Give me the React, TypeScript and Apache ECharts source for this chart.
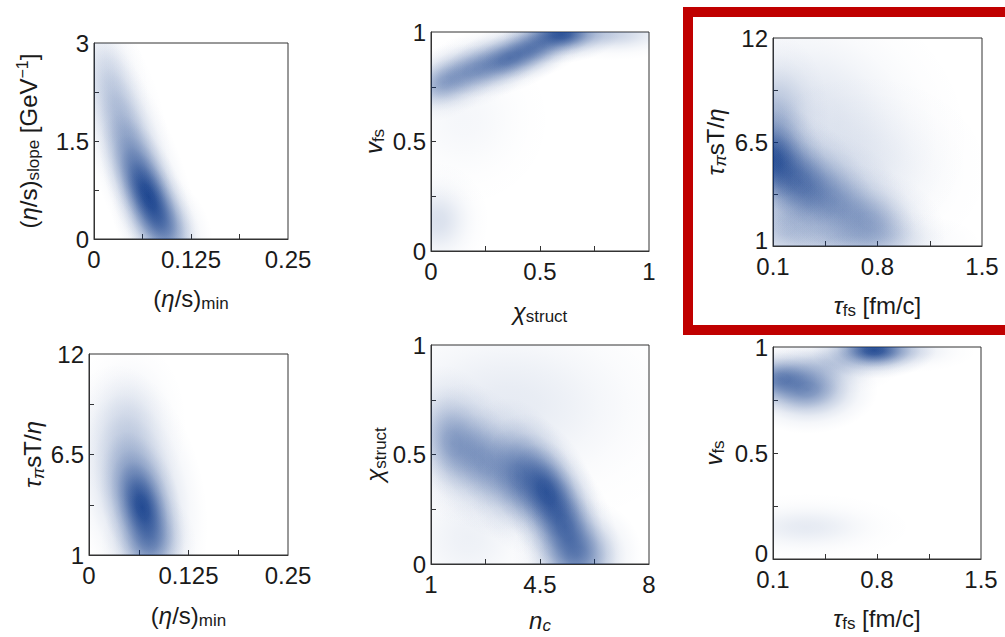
import React, { useEffect, useRef } from "react";
import * as echarts from "echarts";

const FONT = "'Liberation Sans', Arial, Helvetica, sans-serif";

// ---------- axes ----------
const xRanges = [[0, 0.25], [0, 1], [0.1, 1.5], [0, 0.25], [1, 8], [0.1, 1.5]];
const yRanges = [[0, 3], [0, 1], [1, 12], [1, 12], [0, 1], [0, 1]];
const xLabelValues = [[0, 0.125, 0.25], [0, 0.5, 1], [0.1, 0.8, 1.5], [0, 0.125, 0.25], [1, 4.5, 8], [0.1, 0.8, 1.5]];
const yLabelValues = [[0, 1.5, 3], [0, 0.5, 1], [1, 6.5, 12], [1, 6.5, 12], [0, 0.5, 1], [0, 0.5, 1]];
const xTickValues = [[0.0625, 0.125, 0.1875], [0.25, 0.5, 0.75], [0.45, 0.8, 1.15], [0.0625, 0.125, 0.1875], [2.75, 4.5, 6.25], [0.45, 0.8, 1.15]];
const yTickValues = [[0.75, 1.5, 2.25], [0.25, 0.5, 0.75], [3.75, 6.5, 9.25], [3.75, 6.5, 9.25], [0.25, 0.5, 0.75], [0.25, 0.5, 0.75]];

// ---------- axis titles (rich text) ----------
const ETA_MIN = "{t|(}{i|η}{t|/s)}{s|min}";
const ETA_SLOPE = "{t|(}{i|η}{t|/s)}{s|slope}{t| [GeV}{p|−1}{t|]}";
const V_FS = "{i|v}{s|fs}";
const CHI = "{i|χ}{s|struct}";
const TAU_PI = "{i|τ}{si|π}{t|sT/}{i|η}";
const TAU_FS = "{i|τ}{s|fs}{t| [fm/c]}";
const N_C = "{i|n}{si|c}";
const xTitles = [ETA_MIN, CHI, TAU_FS, ETA_MIN, N_C, TAU_FS];
const yTitles = [ETA_SLOPE, V_FS, TAU_PI, TAU_PI, CHI, V_FS];

// ---------- posterior densities, as soft blobs: [x, y, sigmaX, sigmaY, correlation, weight] ----------
const etaSlopeVsEtaMin = [
  [0.07, 0.65, 0.021, 0.42, -0.6, 0.82],
  [0.058, 1.05, 0.028, 0.7, -0.7, 0.4],
  [0.035, 1.9, 0.022, 0.55, -0.5, 0.18],
  [0.018, 2.55, 0.018, 0.4, -0.3, 0.1],
  [0.088, 0.2, 0.022, 0.3, -0.3, 0.35],
];
const vfsVsChi = [
  [0.06, 0.77, 0.08, 0.06, 0.3, 0.38],
  [0.2, 0.83, 0.1, 0.065, 0.4, 0.42],
  [0.36, 0.88, 0.1, 0.06, 0.45, 0.6],
  [0.48, 0.93, 0.08, 0.05, 0.3, 0.45],
  [0.6, 0.99, 0.09, 0.045, 0.1, 0.8],
  [0.82, 0.99, 0.13, 0.04, 0, 0.22],
  [0.03, 0.14, 0.08, 0.09, 0, 0.15],
  [0.15, 0.6, 0.15, 0.15, 0, 0.04],
];
const tauPiVsTauFs = [
  [0.1, 5.6, 0.12, 1.2, -0.2, 0.75],
  [0.28, 4.4, 0.16, 1.3, -0.3, 0.55],
  [0.5, 3.4, 0.18, 1.3, -0.3, 0.35],
  [0.75, 2.3, 0.17, 1.0, -0.2, 0.35],
  [0.18, 2.0, 0.15, 0.9, 0, 0.25],
  [0.12, 7.8, 0.12, 1.5, 0, 0.25],
  [0.4, 8.0, 0.35, 2.5, -0.2, 0.12],
  [0.6, 1.3, 0.3, 0.6, 0, 0.2],
  [0.7, 5.0, 0.3, 1.8, 0, 0.08],
];
const tauPiVsEtaMin = [
  [0.067, 3.6, 0.018, 1.4, -0.35, 0.8],
  [0.06, 4.6, 0.03, 2.3, -0.3, 0.4],
  [0.05, 8.2, 0.025, 1.6, 0, 0.12],
  [0.075, 1.6, 0.02, 1.0, 0, 0.4],
];
const chiVsNc = [
  [1.7, 0.55, 0.6, 0.12, -0.2, 0.4],
  [2.7, 0.47, 0.65, 0.12, -0.3, 0.4],
  [3.8, 0.4, 0.6, 0.12, -0.2, 0.5],
  [4.7, 0.33, 0.6, 0.12, -0.4, 0.75],
  [5.3, 0.17, 0.6, 0.13, -0.4, 0.6],
  [5.7, 0.04, 0.7, 0.09, 0, 0.45],
  [3.5, 0.72, 2.2, 0.2, 0, 0.1],
  [2.2, 0.12, 1.0, 0.14, 0, 0.07],
];
const vfsVsTauFs = [
  [0.15, 0.85, 0.14, 0.055, 0, 0.55],
  [0.33, 0.8, 0.16, 0.07, 0, 0.5],
  [0.78, 0.985, 0.14, 0.045, 0, 0.85],
  [0.5, 0.92, 0.16, 0.05, 0, 0.2],
  [1.0, 0.98, 0.16, 0.035, 0, 0.12],
  [0.32, 0.15, 0.24, 0.055, 0, 0.1],
];
const densities = [etaSlopeVsEtaMin, vfsVsChi, tauPiVsTauFs, tauPiVsEtaMin, chiVsNc, vfsVsTauFs];

// ---------- layout ----------
const grids = [
  { left: 94, top: 43, width: 194, height: 196 },
  { left: 431, top: 32, width: 218, height: 219 },
  { left: 773, top: 38, width: 209, height: 208 },
  { left: 89, top: 354, width: 199, height: 201 },
  { left: 431, top: 345, width: 218, height: 219 },
  { left: 773, top: 347, width: 208, height: 212 },
];
const xNameGaps = [45, 46, 45, 46, 42, 45];
const yNameGaps = [52, 44, 44, 42, 42, 46];
const liftMinYLabel = [false, false, true, false, false, true];

const TEXT = "#1a1a1a";
const FRAME = "#333";
const BLUE = [5, 50, 132];

const RICH = {
  t: { fontSize: 24, fontFamily: FONT, color: TEXT, lineHeight: 28 },
  i: { fontSize: 24, fontFamily: FONT, color: TEXT, fontStyle: "italic", lineHeight: 28 },
  s: { fontSize: 17, fontFamily: FONT, color: TEXT, lineHeight: 17, verticalAlign: "bottom" },
  si: { fontSize: 17, fontFamily: FONT, color: TEXT, fontStyle: "italic", lineHeight: 17, verticalAlign: "bottom" },
  p: { fontSize: 16, fontFamily: FONT, color: TEXT, lineHeight: 16, verticalAlign: "top" },
};
const LABEL_RICH = {
  n: { fontSize: 24, fontFamily: FONT, color: TEXT, lineHeight: 24 },
  lift: { fontSize: 24, fontFamily: FONT, color: TEXT, lineHeight: 24, padding: [0, 0, 12, 0] },
};

const fmt = (v: number) => String(+Number(v).toFixed(4));

// Gaussian-like fall-off over 3 sigma (gradient radius = 3 sigma)
const FALLOFF = [0, 0.15, 0.3, 0.45, 0.6, 0.75, 0.9, 1].map((r) => [r, r >= 1 ? 0 : Math.exp(-4.5 * r * r)]);

function renderBlob(_params: any, api: any) {
  const x = api.value(0), y = api.value(1);
  const sx = api.value(2), sy = api.value(3);
  const rho = api.value(4), w = api.value(5);
  const c = api.coord([x, y]);
  const s = api.size([sx, sy]);
  const Sx = s[0], Sy = s[1];
  const a = Sx * Sx, d = Sy * Sy, b = -rho * Sx * Sy;
  const tr = (a + d) / 2;
  const disc = Math.sqrt(((a - d) / 2) ** 2 + b * b);
  const l1 = tr + disc, l2 = Math.max(tr - disc, 1e-6);
  const theta = 0.5 * Math.atan2(2 * b, a - d);
  const k = 3;
  const R1 = k * Math.sqrt(l1), R2 = k * Math.sqrt(l2);
  const col = (f: number) => `rgba(${BLUE[0]},${BLUE[1]},${BLUE[2]},${(w * f).toFixed(3)})`;
  return {
    type: "circle",
    x: c[0],
    y: c[1],
    scaleX: R1 / 100,
    scaleY: R2 / 100,
    rotation: -theta,
    shape: { cx: 0, cy: 0, r: 100 },
    style: {
      fill: new echarts.graphic.RadialGradient(
        0.5,
        0.5,
        0.5,
        FALLOFF.map(([o, f]) => ({ offset: o, color: col(f) }))
      ),
    },
  };
}

function buildOption() {
  const grid = grids.map((g) => ({
    ...g,
    show: true,
    borderColor: FRAME,
    borderWidth: 1,
    backgroundColor: "transparent",
    containLabel: false,
    outerBoundsMode: "none",
  }));
  const labelStyle = { fontSize: 24, fontFamily: FONT, color: TEXT };
  const xAxis = grids.map((_, i) => ({
    type: "value",
    gridIndex: i,
    min: xRanges[i][0],
    max: xRanges[i][1],
    axisLine: { show: true, onZero: false, lineStyle: { color: FRAME, width: 1 } },
    axisTick: { show: true, inside: true, length: 5, customValues: xTickValues[i], lineStyle: { color: FRAME, width: 1 } },
    axisLabel: { show: true, customValues: xLabelValues[i], margin: 8, formatter: fmt, ...labelStyle },
    splitLine: { show: false },
    name: xTitles[i],
    nameLocation: "middle",
    nameGap: xNameGaps[i],
    nameTextStyle: { rich: RICH, fontSize: 24, fontFamily: FONT, color: TEXT },
  }));
  const yAxis = grids.map((_, i) => ({
    type: "value",
    gridIndex: i,
    min: yRanges[i][0],
    max: yRanges[i][1],
    axisLine: { show: true, onZero: false, lineStyle: { color: FRAME, width: 1 } },
    axisTick: { show: true, inside: true, length: 5, customValues: yTickValues[i], lineStyle: { color: FRAME, width: 1 } },
    axisLabel: {
      show: true,
      customValues: yLabelValues[i],
      margin: 5,
      formatter: (v: number) =>
        liftMinYLabel[i] && Math.abs(v - yRanges[i][0]) < 1e-9 ? `{lift|${fmt(v)}}` : `{n|${fmt(v)}}`,
      rich: LABEL_RICH,
      ...labelStyle,
    },
    splitLine: { show: false },
    name: yTitles[i],
    nameLocation: "middle",
    nameGap: yNameGaps[i],
    nameTextStyle: { rich: RICH, fontSize: 24, fontFamily: FONT, color: TEXT },
  }));
  const series = densities.map((data, i) => ({
    type: "custom",
    coordinateSystem: "cartesian2d",
    xAxisIndex: i,
    yAxisIndex: i,
    clip: true,
    silent: true,
    encode: { x: 0, y: 1 },
    renderItem: renderBlob,
    data,
  }));
  return {
    animation: false,
    backgroundColor: "#ffffff",
    textStyle: { fontFamily: FONT },
    grid,
    xAxis,
    yAxis,
    series,
    graphic: [
      {
        type: "rect",
        z: 100,
        silent: true,
        shape: { x: 688, y: 12, width: 340, height: 318 },
        style: { fill: "none", stroke: "#c00000", lineWidth: 10 },
      },
    ],
  };
}

export default function App() {
  const ref = useRef<HTMLDivElement>(null);
  useEffect(() => {
    if (!ref.current) return;
    const chart = echarts.init(ref.current, null, { renderer: "svg" });
    chart.setOption(buildOption() as any);
    return () => chart.dispose();
  }, []);
  return (
    <div
      ref={ref}
      style={{ position: "fixed", left: 0, top: 0, width: 1005, height: 637, background: "#fff" }}
    />
  );
}
